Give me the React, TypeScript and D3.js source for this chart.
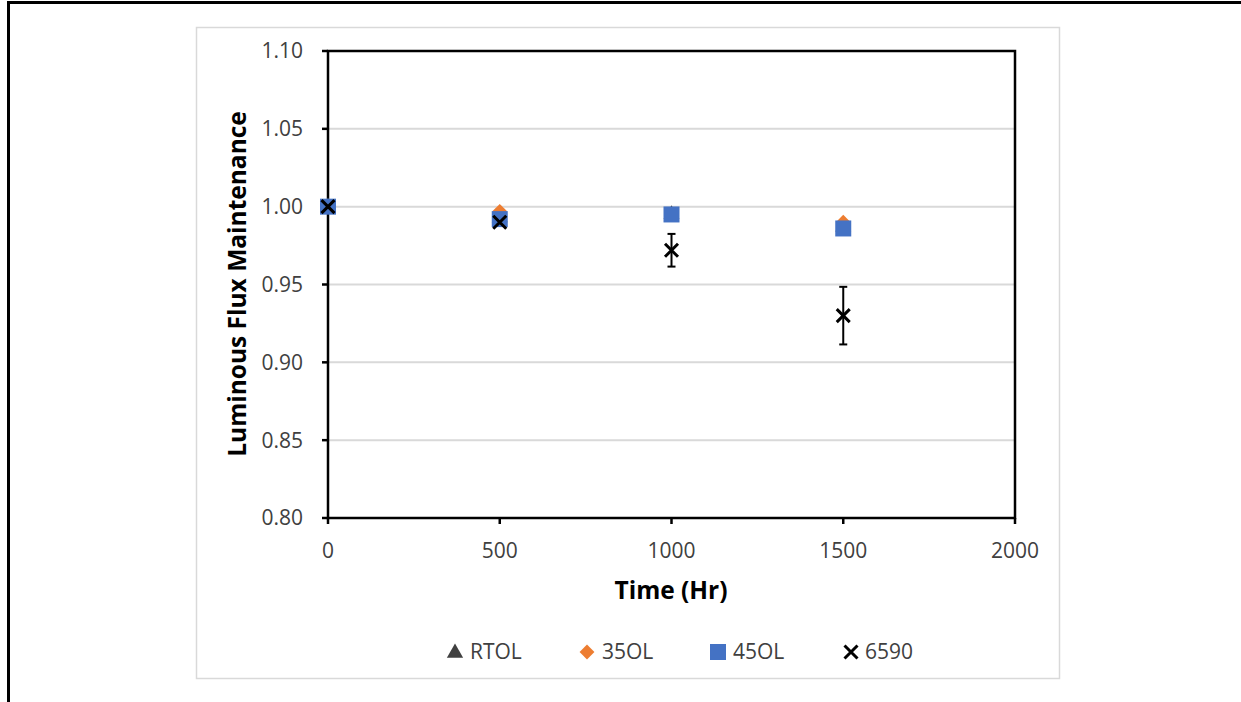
import React from "react";
import * as d3 from "d3";

const times = [0, 500, 1000, 1500];
const rtol = [1.0, 0.993, 0.995, 0.987];
const ol35 = [1.0, 0.997, 0.995, 0.99];
const ol45 = [1.0, 0.992, 0.995, 0.986];
const s6590 = [1.0, 0.99, 0.972, 0.93];
const err6590 = [0, 0, 0.0105, 0.0185];
const yTicks = [0.8, 0.85, 0.9, 0.95, 1.0, 1.05, 1.1];
const xTicks = [0, 500, 1000, 1500, 2000];
const legendNames = ["RTOL", "35OL", "45OL", "6590"];

const FONT = "'Open Sans', Lato, sans-serif";

export default function App() {
  const W = 1241, H = 702;
  const x = d3.scaleLinear().domain([0, 2000]).range([328, 1015]);
  const y = d3.scaleLinear().domain([0.8, 1.1]).range([518, 51]);
  const tri = d3.symbol().type(d3.symbolTriangle).size(110)();
  const dia = d3.symbol().type(d3.symbolDiamond2).size(140)();

  const xMark = (cx: number, cy: number, r: number, key: string) => (
    <path key={key} d={`M${cx - r},${cy - r}L${cx + r},${cy + r}M${cx - r},${cy + r}L${cx + r},${cy - r}`} stroke="#000" strokeWidth={3} fill="none" />
  );

  const legendX = [455, 587, 718, 851];
  const legendTextX = [470, 602, 733, 865];
  const legY = 652;

  return (
    <svg width={W} height={H} style={{ position: "absolute", left: 0, top: 0 }}>
      <rect x={0} y={0} width={W} height={H} fill="#fff" />
      {/* outer frame */}
      <line x1={7} x2={W} y1={2.5} y2={2.5} stroke="#000" strokeWidth={3} />
      <line x1={8.5} x2={8.5} y1={1} y2={H} stroke="#000" strokeWidth={3} />
      {/* chart area */}
      <rect x={196.5} y={27.5} width={863} height={651} fill="#fff" stroke="#d9d9d9" strokeWidth={1.5} />
      {/* grid */}
      {yTicks.slice(1, -1).map((t) => (
        <line key={t} x1={x(0)} x2={x(2000)} y1={y(t)} y2={y(t)} stroke="#d9d9d9" strokeWidth={2} />
      ))}
      {/* plot border */}
      <rect x={x(0)} y={y(1.1)} width={x(2000) - x(0)} height={y(0.8) - y(1.1)} fill="none" stroke="#000" strokeWidth={2.5} />
      {/* y ticks */}
      {yTicks.map((t) => (
        <g key={t}>
          <line x1={x(0) - 6} x2={x(0)} y1={y(t)} y2={y(t)} stroke="#000" strokeWidth={2.5} />
          <text x={303} y={y(t)} dy="0.35em" textAnchor="end" fontFamily={FONT} fontSize={21} fill="#404040">{t.toFixed(2)}</text>
        </g>
      ))}
      {/* x ticks */}
      {xTicks.map((t) => (
        <g key={t}>
          <line x1={x(t)} x2={x(t)} y1={y(0.8)} y2={y(0.8) + 6} stroke="#000" strokeWidth={2.5} />
          <text x={x(t)} y={551} dy="0.35em" textAnchor="middle" fontFamily={FONT} fontSize={21} fill="#404040">{t}</text>
        </g>
      ))}
      {/* axis titles */}
      <text x={671} y={590} dy="0.35em" textAnchor="middle" fontFamily={FONT} fontSize={24.5} fontWeight="bold" fill="#000">Time (Hr)</text>
      <text transform={`translate(237,284) rotate(-90)`} dy="0.35em" textAnchor="middle" fontFamily={FONT} fontSize={24.5} fontWeight="bold" fill="#000">Luminous Flux Maintenance</text>
      {/* series */}
      {times.map((t, i) => (
        <path key={"r" + i} d={tri} transform={`translate(${x(t)},${y(rtol[i])})`} fill="#404040" />
      ))}
      {times.map((t, i) => (
        <path key={"d" + i} d={dia} transform={`translate(${x(t)},${y(ol35[i])})`} fill="#ED7D31" />
      ))}
      {times.map((t, i) => (
        <rect key={"s" + i} x={x(t) - 8} y={y(ol45[i]) - 8} width={16} height={16} fill="#4472C4" />
      ))}
      {times.map((t, i) =>
        err6590[i] > 0 ? (
          <g key={"e" + i}>
            <line x1={x(t)} x2={x(t)} y1={y(s6590[i] + err6590[i])} y2={y(s6590[i] - err6590[i])} stroke="#000" strokeWidth={2} />
            <line x1={x(t) - 4} x2={x(t) + 4} y1={y(s6590[i] + err6590[i])} y2={y(s6590[i] + err6590[i])} stroke="#000" strokeWidth={2} />
            <line x1={x(t) - 4} x2={x(t) + 4} y1={y(s6590[i] - err6590[i])} y2={y(s6590[i] - err6590[i])} stroke="#000" strokeWidth={2} />
          </g>
        ) : null
      )}
      {times.map((t, i) => xMark(x(t), y(s6590[i]), 6.5, "x" + i))}
      {/* legend */}
      <path d={d3.symbol().type(d3.symbolTriangle).size(115)()} transform={`translate(${legendX[0]},${legY + 1})`} fill="#404040" />
      <path d={d3.symbol().type(d3.symbolDiamond2).size(140)()} transform={`translate(${legendX[1]},${legY})`} fill="#ED7D31" />
      <rect x={legendX[2] - 8} y={legY - 8} width={16} height={16} fill="#4472C4" />
      {xMark(legendX[3], legY, 6.5, "lx")}
      {legendNames.map((n, i) => (
        <text key={n} x={legendTextX[i]} y={legY} dy="0.35em" fontFamily={FONT} fontSize={21} fill="#404040">{n}</text>
      ))}
    </svg>
  );
}
